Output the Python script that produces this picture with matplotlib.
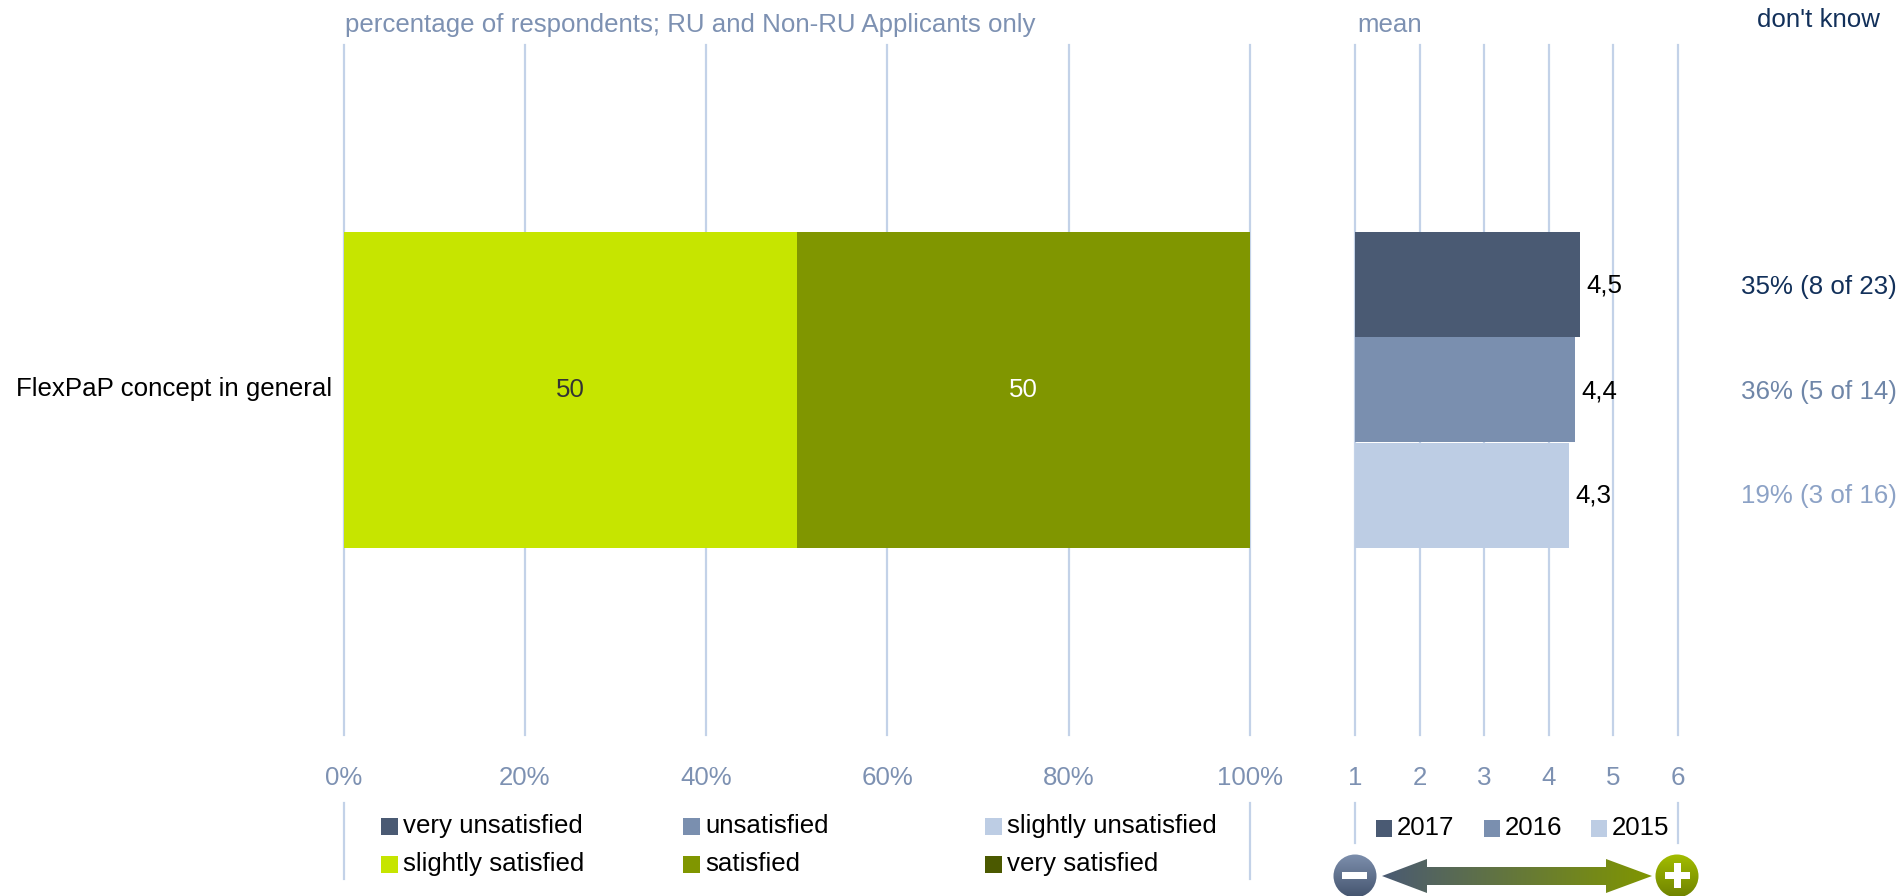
import numpy as np
import matplotlib
matplotlib.use("Agg")
import matplotlib.pyplot as plt
from matplotlib.patches import Polygon, Circle, Rectangle
from matplotlib.colors import LinearSegmentedColormap

plt.rcParams['font.family'] = ['Liberation Sans', 'DejaVu Sans']

category = "FlexPaP concept in general"
share_names = ["slightly satisfied", "satisfied"]
share_values = [50, 50]
share_colors = ["#C6E500", "#809600"]

years = ["2017", "2016", "2015"]
means = [4.49, 4.41, 4.32]
mean_labels = ["4,5", "4,4", "4,3"]
year_colors = ["#4A5A73", "#7A8FAF", "#BDCDE4"]
dont_know = ["35% (8 of 23)", "36% (5 of 14)", "19% (3 of 16)"]
dont_know_colors = ["#12305A", "#6F86A8", "#8CA2C6"]

legend_rows = [["very unsatisfied", "unsatisfied", "slightly unsatisfied"],
               ["slightly satisfied", "satisfied", "very satisfied"]]
legend_colors = [["#4A5A73", "#7A8FAF", "#BDCDE4"],
                 ["#C6E500", "#809600", "#4B5900"]]

GRID = "#C3D2E8"
BLUE = "#7D91B2"
W, H = 1902, 896
FS = 18.6

fig = plt.figure(figsize=(W / 100, H / 100), dpi=100)


def make_axes(x0, x1, y0, y1):
    return fig.add_axes([x0 / W, 1 - y1 / H, (x1 - x0) / W, (y1 - y0) / H])


def style_axes(ax, ticks, labels):
    for s in ax.spines.values():
        s.set_visible(False)
    ax.set_yticks([])
    ax.set_xticks(ticks)
    ax.set_xticklabels(labels, fontsize=FS, color=BLUE)
    ax.tick_params(axis='x', length=0, pad=22)
    ax.grid(axis='x', color=GRID, linewidth=1.6, clip_on=False)
    ax.set_axisbelow(True)
    ax.set_ylim(0, 690)


# left chart, stacked percent
ax = make_axes(343.5, 1250, 45, 735)
ax.set_xlim(0, 100)
style_axes(ax, [0, 20, 40, 60, 80, 100], ["0%", "20%", "40%", "60%", "80%", "100%"])
left = 0
text_colors = ["#333333", "white"]
for v, c, tc in zip(share_values, share_colors, text_colors):
    ax.barh(345, v, left=left, height=315, color=c)
    ax.text(left + v / 2, 345, str(v), ha='center', va='center', fontsize=FS, color=tc)
    left += v

# right chart, means by year
ax2 = make_axes(1355, 1678, 45, 735)
ax2.set_xlim(1, 6)
style_axes(ax2, [1, 2, 3, 4, 5, 6], ["1", "2", "3", "4", "5", "6"])
for i, (m, lab, c) in enumerate(zip(means, mean_labels, year_colors)):
    yc = 345 + 105 * (1 - i)
    ax2.barh(yc, m - 1, left=1, height=105, color=c)
    ax2.text(m + 0.09, yc - 1, lab, ha='left', va='center', fontsize=FS, color='black')

# overlay in pixel coordinates for texts, legends and the arrow
ov = fig.add_axes([0, 0, 1, 1], zorder=5)
ov.set_xlim(0, W)
ov.set_ylim(H, 0)
ov.axis('off')

ov.text(345, 25, "percentage of respondents; RU and Non-RU Applicants only",
        fontsize=FS, color=BLUE, va='center')
ov.text(1357, 25, "mean", fontsize=FS, color=BLUE, va='center')
ov.text(1880, 20, "don't know", fontsize=FS, color="#12305A", va='center', ha='right')
ov.text(332, 389, category, fontsize=FS, color='black', va='center', ha='right')
for i, (t, c) in enumerate(zip(dont_know, dont_know_colors)):
    ov.text(1897, 287 + 104.5 * i, t, fontsize=FS, color=c, va='center', ha='right')

# category legend
col_x = [381, 683, 985]
row_y = [818, 856]
for r, (names, cols) in enumerate(zip(legend_rows, legend_colors)):
    for x, name, c in zip(col_x, names, cols):
        ov.add_patch(Rectangle((x, row_y[r]), 17, 17, color=c, lw=0))
        ov.text(x + 22, row_y[r] + 8, name, fontsize=FS, color='black', va='center')
for x in [343.5, 1250]:
    ov.plot([x, x], [803, 879], color=GRID, lw=1.6)

# year legend
for x, y, c in zip([1376, 1484, 1591], years, year_colors):
    ov.add_patch(Rectangle((x, 820), 16, 17, color=c, lw=0))
    ov.text(x + 21, 828, y, fontsize=FS, color='black', va='center')
for x in [1355, 1678]:
    ov.plot([x, x], [803, 843], color=GRID, lw=1.6)

# double arrow with gradient
cy = 876
arrow_cmap = LinearSegmentedColormap.from_list("arr", ["#4A5A73", "#809600"])
arrow = Polygon([(1382, cy), (1427, cy - 17), (1427, cy - 9), (1606, cy - 9), (1606, cy - 17),
                 (1652, cy), (1606, cy + 17), (1606, cy + 9), (1427, cy + 9), (1427, cy + 17)],
                closed=True, fc='none', ec='none')
ov.add_patch(arrow)
im = ov.imshow(np.linspace(0, 1, 256).reshape(1, -1), extent=[1382, 1652, cy + 18, cy - 18],
               cmap=arrow_cmap, aspect='auto')
im.set_clip_path(arrow)


def badge(cx, top, bottom):
    cm = LinearSegmentedColormap.from_list("b", [top, bottom])
    circ = Circle((cx, cy), 21.5, fc='none', ec='none')
    ov.add_patch(circ)
    g = ov.imshow(np.linspace(0, 1, 64).reshape(-1, 1), extent=[cx - 22, cx + 22, cy + 22, cy - 22],
                  cmap=cm, aspect='auto')
    g.set_clip_path(circ)


badge(1355, "#7E90AE", "#44546E")
badge(1677, "#A4BE00", "#6E8200")
ov.add_patch(Rectangle((1342, cy - 3.5), 25, 7, color='white', lw=0, zorder=6))
ov.add_patch(Rectangle((1665, cy - 3.5), 25, 7, color='white', lw=0, zorder=6))
ov.add_patch(Rectangle((1674, cy - 12.5), 7, 25, color='white', lw=0, zorder=6))
ov.set_xlim(0, W)
ov.set_ylim(H, 0)

fig.savefig("out.png", dpi=100)
